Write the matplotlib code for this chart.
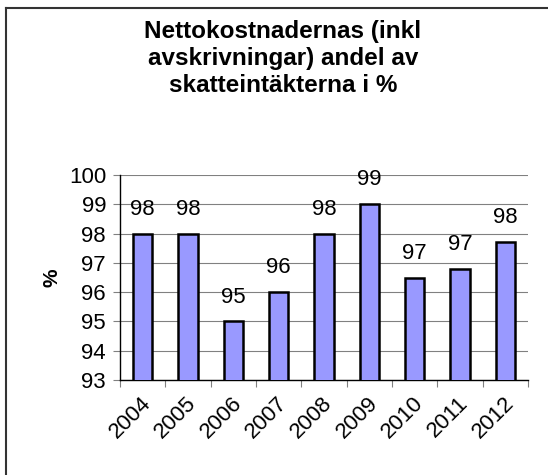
import matplotlib

matplotlib.use("Agg")
import matplotlib.pyplot as plt
import numpy as np
from matplotlib.lines import Line2D

plt.rcParams["font.family"] = ["Liberation Sans", "DejaVu Sans"]

years = ["2004", "2005", "2006", "2007", "2008", "2009", "2010", "2011", "2012"]
shares = [98.0, 98.0, 95.0, 96.0, 98.0, 99.0, 96.5, 96.8, 97.7]
title = "Nettokostnadernas (inkl\navskrivningar) andel av\nskatteintäkterna i %"


def main():
    fig = plt.figure(figsize=(5.48, 4.75), dpi=100)
    ax = fig.add_axes([120 / 548, 1 - 380 / 475, 408 / 548, 205 / 475])

    x = np.arange(len(years))
    bars = ax.bar(x, shares, width=0.42, bottom=0, color="#9999ff",
                  edgecolor="black", linewidth=1.8, zorder=3)
    for rect, v in zip(bars, shares):
        ax.annotate(f"{int(np.floor(v + 0.5))}",
                    (rect.get_x() + rect.get_width() / 2, v),
                    xytext=(0, 10), textcoords="offset points",
                    ha="center", va="bottom", fontsize=16)

    ax.set_ylim(93, 100)
    ax.set_xlim(-0.5, len(years) - 0.5)
    ax.set_yticks(range(93, 101))
    ax.tick_params(axis="y", labelsize=16, length=5, width=0.8, color="#808080", pad=5)
    ax.yaxis.grid(True, color="#808080", linewidth=0.8, zorder=0)

    ax.set_xticks(np.arange(-0.5, len(years)), minor=False)
    ax.set_xticklabels([])
    ax.tick_params(axis="x", length=5, width=0.8, color="#808080")
    for i, yr in enumerate(years):
        ax.text(i + 0.12, -0.1, yr, transform=ax.get_xaxis_transform(),
                rotation=45, ha="right", va="center", rotation_mode="anchor",
                fontsize=16)

    for side in ("top", "right"):
        ax.spines[side].set_visible(False)
    ax.spines["left"].set_linewidth(1.0)
    ax.spines["bottom"].set_linewidth(1.0)

    ax.set_ylabel("%", fontsize=15, fontweight="bold", labelpad=5)

    fig.text(283 / 548, 1 - 20 / 475, title, ha="center", va="top",
             fontsize=17.5, fontweight="bold", linespacing=1.22)

    # chart frame, cropped at right and bottom
    fig.add_artist(Line2D([5.5 / 548, 5.5 / 548], [0, 1 - 8 / 475],
                          transform=fig.transFigure, color="#333333", linewidth=1.5))
    fig.add_artist(Line2D([5.5 / 548, 1], [1 - 8 / 475, 1 - 8 / 475],
                          transform=fig.transFigure, color="#333333", linewidth=1.5))

    fig.savefig("out.png", dpi=100)


if __name__ == "__main__":
    main()
